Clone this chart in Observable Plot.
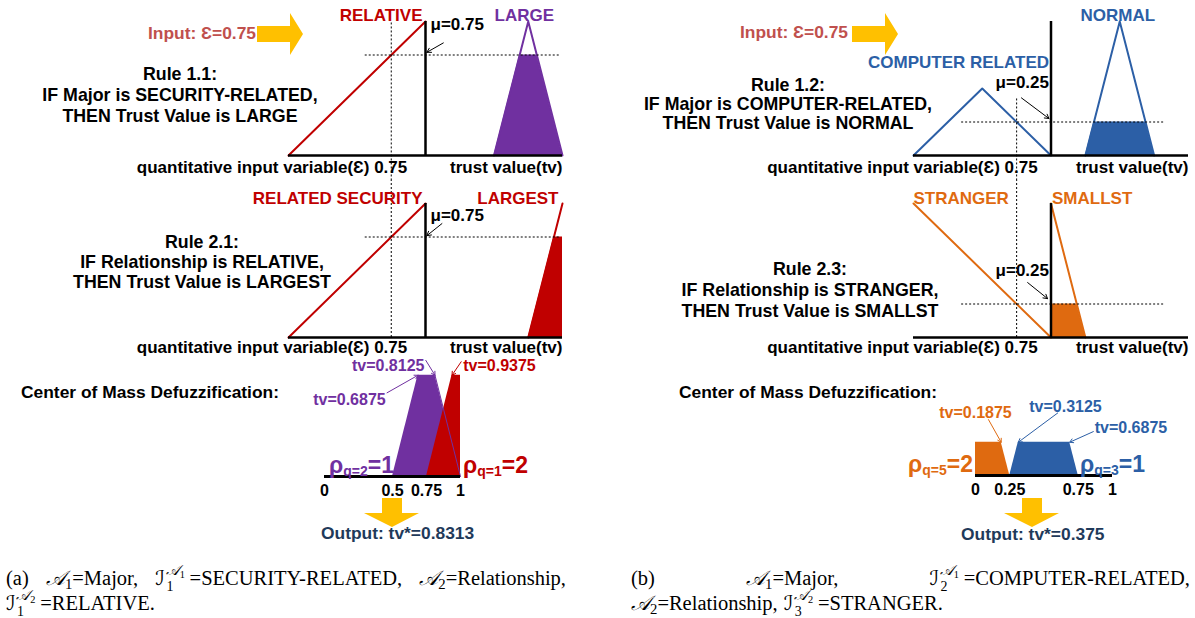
<!DOCTYPE html>
<html>
<head>
<meta charset="utf-8">
<script src="https://cdn.jsdelivr.net/npm/d3@7"></script>
<script src="https://cdn.jsdelivr.net/npm/@observablehq/plot@0.6"></script>
<style>
html,body{margin:0;padding:0;background:#fff;}
#fig{position:relative;width:1195px;height:618px;overflow:hidden;font-family:"Liberation Sans",Arial,Helvetica,sans-serif;}
#fig svg{position:absolute;overflow:visible;background:transparent;}
.t{position:absolute;font-weight:bold;font-size:17.4px;line-height:1;white-space:nowrap;color:#000;}
.rule{position:absolute;font-weight:bold;font-size:17.8px;white-space:nowrap;text-align:center;color:#000;}
.rho{position:absolute;font-weight:bold;font-size:23px;line-height:1;white-space:nowrap;}
.rho sub{font-size:14px;vertical-align:-0.15em;}
.cap{position:absolute;font-family:"Liberation Serif","Times New Roman",serif;font-size:20.5px;line-height:25px;color:#000;}
.cap .row{display:flex;justify-content:space-between;white-space:nowrap;height:25px;align-items:baseline;}
.cap .row.left{justify-content:flex-start;gap:6px;}
.cal{font-family:"DejaVu Serif","DejaVu Sans",serif;font-style:italic;}
.cap sub.s1{font-size:0.72em;vertical-align:-0.3em;line-height:0;}
.ss{position:relative;display:inline-block;width:1.2em;height:0.8em;}
.ss .up{position:absolute;left:0.05em;top:-0.32em;font-size:0.7em;line-height:0.9;white-space:nowrap;}
.ss .dn{position:absolute;left:0.1em;bottom:-0.58em;font-size:0.68em;line-height:0.9;}
</style>
</head>
<body>
<div id="fig"></div>
<script>
// ---------- colours ----------
const RED = "#C00000", PURPLE = "#7030A0", BLUE = "#2C5FA6", ORANGE = "#DF6A10";
const SALMON = "#C0504D", NAVY = "#1F3A5A", YELLOW = "#FFC000";

// ---------- data ----------
const inputValue = 0.75;

// antecedent membership functions (x = quantitative input variable ε)
const relativeMF        = [{x: 0, mu: 0}, {x: 1, mu: 1}];
const relatedSecurityMF = [{x: 0, mu: 0}, {x: 1, mu: 1}];
const computerRelatedMF = [{x: 0, mu: 0}, {x: 0.5, mu: 0.5}, {x: 1, mu: 0}];
const strangerMF        = [{x: 0, mu: 1}, {x: 1, mu: 0}];

// consequent membership functions (x = trust value tv)
const largeMF   = [{x: 0.5, mu: 0}, {x: 0.75, mu: 1}, {x: 1, mu: 0}];
const largestMF = [{x: 0.75, mu: 0}, {x: 1, mu: 1}];
const normalMF  = [{x: 0.25, mu: 0}, {x: 0.5, mu: 1}, {x: 0.75, mu: 0}];
const smallstMF = [{x: 0, mu: 1}, {x: 0.25, mu: 0}];

// firing strengths
const muRule11 = 0.75, muRule21 = 0.75, muRule12 = 0.25, muRule23 = 0.25;

// clipped consequents
const largeCut   = [{x: 0.5, mu: 0}, {x: 0.6875, mu: 0.75}, {x: 0.8125, mu: 0.75}, {x: 1, mu: 0}];
const largestCut = [{x: 0.75, mu: 0}, {x: 0.9375, mu: 0.75}, {x: 1, mu: 0.75}];
const normalCut  = [{x: 0.25, mu: 0}, {x: 0.3125, mu: 0.25}, {x: 0.6875, mu: 0.25}, {x: 0.75, mu: 0}];
const smallstCut = [{x: 0, mu: 0.25}, {x: 0.1875, mu: 0.25}, {x: 0.25, mu: 0}];

// defuzzification axes tick labels
const defuzzTicksA = [0, 0.5, 0.75, 1];
const defuzzTicksB = [0, 0.25, 0.75, 1];

// rule weights and outputs
const weightsA = [{q: 2, rho: 1}, {q: 1, rho: 2}];
const weightsB = [{q: 5, rho: 2}, {q: 3, rho: 1}];
const outputA = 0.8313, outputB = 0.375;

// rule texts
const rule11 = ["Rule 1.1:", "IF Major is SECURITY-RELATED,", "THEN Trust Value is LARGE"];
const rule21 = ["Rule 2.1:", "IF Relationship is RELATIVE,", "THEN Trust Value is LARGEST"];
const rule12 = ["Rule 1.2:", "IF Major is COMPUTER-RELATED,", "THEN Trust Value is NORMAL"];
const rule23 = ["Rule 2.3:", "IF Relationship is STRANGER,", "THEN Trust Value is SMALLST"];

// ---------- helpers ----------
const fig = document.getElementById("fig");
const FONT = "Liberation Sans, Arial, sans-serif";
const TXT = {fontSize: 17, fontWeight: "bold", fill: "#000"};
const DOT = {stroke: "#000", strokeWidth: 1, strokeDasharray: "2,2"};

function place(el, left, top) {
  el.style.left = left + "px";
  el.style.top = top + "px";
  fig.appendChild(el);
}
function label(html, x, y, cls = "t", anchor = "start", color) {
  const d = document.createElement("div");
  d.className = cls;
  d.innerHTML = html;
  const ax = anchor === "middle" ? "-50%" : anchor === "end" ? "-100%" : "0";
  d.style.transform = `translate(${ax},-50%)`;
  if (color) d.style.color = color;
  place(d, x, y);
}
function ruleText(lines, cx, cy, lh) {
  const d = document.createElement("div");
  d.className = "rule";
  d.style.lineHeight = lh + "px";
  d.innerHTML = lines.join("<br>");
  d.style.transform = "translate(-50%,-50%)";
  place(d, cx, cy);
}

// rule diagram: input variable on x in [0,1], trust value drawn on x in [1,2]
function ruleChart(c) {
  const tvx = d => 1 + d.x;
  const svg = Plot.plot({
    width: c.width, height: 180,
    marginLeft: c.mL, marginRight: c.mR, marginTop: c.mT, marginBottom: c.mB,
    x: {domain: [0, 2], axis: null},
    y: {domain: [0, 1], axis: null},
    style: {fontFamily: FONT, background: "transparent", overflow: "visible"},
    marks: [
      Plot.areaY(c.cut, {x: tvx, y: "mu", fill: c.outColor}),
      Plot.line(c.outMF, {x: tvx, y: "mu", stroke: c.outColor, strokeWidth: 2}),
      Plot.line(c.inMF, {x: "x", y: "mu", stroke: c.inColor, strokeWidth: 2}),
      Plot.ruleX([inputValue], {y1: c.dotV[0], y2: c.dotV[1], ...DOT}),
      Plot.ruleY([c.mu], {x1: c.dotH[0], x2: c.dotH[1], ...DOT}),
      Plot.ruleY([0], {x1: 0, x2: 2, stroke: "#000", strokeWidth: 2.5}),
      Plot.ruleX([1], {y1: 0, y2: 1, stroke: "#000", strokeWidth: 2.5}),
      Plot.arrow([c.arrow], {x1: "x1", y1: "y1", x2: "x2", y2: "y2", stroke: "#000", strokeWidth: 1, headLength: 7}),
      Plot.text([`μ=${c.mu}`], {x: c.muLabel.x, y: c.muLabel.y, text: d => d, textAnchor: c.muLabel.anchor, dx: c.muLabel.dx, ...TXT}),
      Plot.text([c.inLabel], {x: "x", y: "y", text: "text", textAnchor: c.inLabel.anchor, dx: c.inLabel.dx, dy: c.inLabel.dy, ...TXT, fill: c.inColor}),
      Plot.text([c.outLabel], {x: tvx, y: "y", text: "text", textAnchor: c.outLabel.anchor, dx: c.outLabel.dx, dy: c.outLabel.dy, ...TXT, fill: c.outColor}),
      Plot.text([`quantitative input variable(Ɛ) ${inputValue}`], {x: inputValue, y: 0, text: d => d, textAnchor: "end", dx: c.axDx, dy: c.axDy, ...TXT}),
      Plot.text(["trust value(tv)"], {x: 2, y: 0, text: d => d, textAnchor: "end", dy: c.axDy, ...TXT})
    ]
  });
  place(svg, c.left, c.top);
}

// defuzzification diagram: trust value on x in [0,1]
function defuzzChart(c) {
  const marks = c.areas.map(a => Plot.areaY(a.data, {x: "x", y: "mu", fill: a.color}));
  if (c.edge) marks.push(Plot.line(c.edge.data, {x: "x", y: "mu", stroke: c.edge.color, strokeWidth: 1}));
  marks.push(Plot.ruleY([0], {x1: 0, x2: 1, stroke: "#000", strokeWidth: 3}));
  marks.push(Plot.text(c.ticks, {x: d => d, y: 0, text: d => String(d), dy: 14, ...TXT, fontSize: 16}));
  c.notes.forEach(n => {
    marks.push(Plot.arrow([n], {x1: "ax", y1: "ay", x2: "tv", y2: "mu", stroke: n.color, strokeWidth: 1, headLength: 6}));
    marks.push(Plot.text([n], {x: "lx", y: "ly", text: "text", textAnchor: n.anchor, ...TXT, fontSize: 16, fill: n.color}));
  });
  const svg = Plot.plot({
    width: c.width, height: 200,
    marginLeft: c.mL, marginRight: c.mR, marginTop: c.mT, marginBottom: c.mB,
    x: {domain: [0, 1], axis: null},
    y: {domain: [0, 1], axis: null},
    style: {fontFamily: FONT, background: "transparent", overflow: "visible"},
    marks
  });
  place(svg, c.left, c.top);
}

// ---------- panel (a) ----------
ruleChart({
  left: 0, top: 0, width: 600, mL: 288, mR: 38, mT: 21, mB: 25,
  inMF: relativeMF, inColor: RED, inLabel: {text: "RELATIVE", x: 1, y: 1, anchor: "end", dx: -3, dy: -6},
  outMF: largeMF, outColor: PURPLE, cut: largeCut, outLabel: {text: "LARGE", x: 0.75, y: 1, anchor: "middle", dx: -4, dy: -6},
  mu: muRule11, muLabel: {x: 1, y: 0.98, anchor: "start", dx: 5},
  dotV: [-0.19, 1.0], dotH: [0.56, 1.985],
  arrow: {x1: 1.13, y1: 0.84, x2: 1.01, y2: 0.77}, axDx: 16, axDy: 12
});
ruleChart({
  left: 0, top: 180, width: 600, mL: 288, mR: 38, mT: 23, mB: 23,
  inMF: relatedSecurityMF, inColor: RED, inLabel: {text: "RELATED SECURITY", x: 1, y: 1, anchor: "end", dx: -3, dy: -5},
  outMF: largestMF, outColor: RED, cut: largestCut, outLabel: {text: "LARGEST", x: 1, y: 1, anchor: "end", dx: -4, dy: -5},
  mu: muRule21, muLabel: {x: 1, y: 0.91, anchor: "start", dx: 5},
  dotV: [0, 1.17], dotH: [0.56, 1.985],
  arrow: {x1: 1.12, y1: 0.85, x2: 1.01, y2: 0.76}, axDx: 16, axDy: 10
});
defuzzChart({
  left: 0, top: 330, width: 600, mL: 324, mR: 140, mT: 11, mB: 54,
  areas: [{data: largeCut, color: PURPLE}, {data: largestCut, color: RED}],
  edge: {data: largeCut.slice(2), color: PURPLE},
  ticks: defuzzTicksA,
  notes: [
    {text: "tv=0.6875", color: PURPLE, tv: 0.6875, mu: 0.75, lx: 0.45, ly: 0.57, anchor: "end", ax: 0.46, ay: 0.62},
    {text: "tv=0.8125", color: PURPLE, tv: 0.8125, mu: 0.75, lx: 0.735, ly: 0.82, anchor: "end", ax: 0.745, ay: 0.86},
    {text: "tv=0.9375", color: RED, tv: 0.9375, mu: 0.75, lx: 1.02, ly: 0.82, anchor: "start", ax: 1.005, ay: 0.85}
  ]
});

// ---------- panel (b) ----------
ruleChart({
  left: 600, top: 0, width: 595, mL: 313, mR: 7, mT: 21, mB: 25,
  inMF: computerRelatedMF, inColor: BLUE, inLabel: {text: "COMPUTER RELATED", x: 1, y: 0.69, anchor: "end", dx: -2, dy: 0},
  outMF: normalMF, outColor: BLUE, cut: normalCut, outLabel: {text: "NORMAL", x: 0.5, y: 1, anchor: "middle", dx: -2, dy: -6},
  mu: muRule12, muLabel: {x: 1, y: 0.545, anchor: "end", dx: -2},
  dotV: [-0.19, 0.43], dotH: [0.35, 1.825],
  arrow: {x1: 0.785, y1: 0.43, x2: 0.985, y2: 0.276}, axDx: 21, axDy: 12
});
ruleChart({
  left: 600, top: 180, width: 595, mL: 313, mR: 7, mT: 23, mB: 23,
  inMF: strangerMF, inColor: ORANGE, inLabel: {text: "STRANGER", x: 0, y: 1, anchor: "start", dx: 0, dy: -5},
  outMF: smallstMF, outColor: ORANGE, cut: smallstCut, outLabel: {text: "SMALLST", x: 0, y: 1, anchor: "start", dx: 1, dy: -5},
  mu: muRule23, muLabel: {x: 1, y: 0.5, anchor: "end", dx: -2},
  dotV: [0, 1.17], dotH: [0.35, 1.825],
  arrow: {x1: 0.83, y1: 0.41, x2: 0.975, y2: 0.29}, axDx: 21, axDy: 10
});
defuzzChart({
  left: 600, top: 330, width: 595, mL: 375, mR: 83, mT: 12, mB: 55,
  areas: [{data: smallstCut, color: ORANGE}, {data: normalCut, color: BLUE}],
  ticks: defuzzTicksB,
  notes: [
    {text: "tv=0.1875", color: ORANGE, tv: 0.1875, mu: 0.25, lx: 0.0, ly: 0.47, anchor: "middle", ax: 0.095, ay: 0.42},
    {text: "tv=0.3125", color: BLUE, tv: 0.3125, mu: 0.25, lx: 0.657, ly: 0.515, anchor: "middle", ax: 0.6, ay: 0.47},
    {text: "tv=0.6875", color: BLUE, tv: 0.6875, mu: 0.25, lx: 0.87, ly: 0.356, anchor: "start", ax: 0.86, ay: 0.33}
  ]
});

// ---------- texts ----------
label(`Input: Ɛ=${inputValue}`, 148, 34, "t", "start", SALMON);
label(`Input: Ɛ=${inputValue}`, 740, 33, "t", "start", SALMON);
ruleText(rule11, 180, 95, 21);
ruleText(rule21, 202, 262, 20);
ruleText(rule12, 788, 104, 19);
ruleText(rule23, 810, 290, 21);
label("Center of Mass Defuzzification:", 21, 393);
label("Center of Mass Defuzzification:", 679, 393);
label(`Output: tv*=${outputA}`, 321, 534, "t", "start", NAVY);
label(`Output: tv*=${outputB}`, 961, 535, "t", "start", NAVY);
const rho = w => `ρ<sub>q=${w.q}</sub>=${w.rho}`;
label(rho(weightsA[0]), 329, 466, "rho", "start", PURPLE);
label(rho(weightsA[1]), 463, 466, "rho", "start", RED);
label(rho(weightsB[0]), 908, 465, "rho", "start", ORANGE);
label(rho(weightsB[1]), 1080, 465, "rho", "start", BLUE);

// ---------- yellow block arrows ----------
const ns = "http://www.w3.org/2000/svg";
const deco = document.createElementNS(ns, "svg");
deco.setAttribute("width", 1195); deco.setAttribute("height", 618);
deco.style.left = "0px"; deco.style.top = "0px";
const arrowsRight = [257, 852], arrowsDown = [382, 1022];
arrowsRight.forEach(x0 => {
  const p = document.createElementNS(ns, "polygon");
  p.setAttribute("points", [[x0,26],[x0+33,26],[x0+33,13],[x0+46,34],[x0+33,55],[x0+33,42],[x0,42]].map(d => d.join(",")).join(" "));
  p.setAttribute("fill", YELLOW);
  deco.appendChild(p);
});
arrowsDown.forEach(x0 => {
  const p = document.createElementNS(ns, "polygon");
  p.setAttribute("points", [[x0,498],[x0+20,498],[x0+20,513],[x0+37,513],[x0+10,527],[x0-18,513],[x0,513]].map(d => d.join(",")).join(" "));
  p.setAttribute("fill", YELLOW);
  deco.appendChild(p);
});
fig.appendChild(deco);

// ---------- captions ----------
const A = n => `<span class="cal">𝒜</span><sub class="s1">${n}</sub>`;
const I = (sub, sup) => `<span class="cal">ℐ</span><span class="ss"><span class="up">${A(sup)}</span><span class="dn">${sub}</span></span>`;
function caption(rows, left, top, width) {
  const d = document.createElement("div");
  d.className = "cap";
  d.style.width = width + "px";
  d.innerHTML = rows.map((r, i) => `<div class="row${i === rows.length - 1 ? " left" : ""}">${r.map(s => `<span>${s}</span>`).join("")}</div>`).join("");
  place(d, left, top);
}
caption([
  ["(a)", `${A(1)}=Major,`, `${I(1, 1)}=SECURITY-RELATED,`, `${A(2)}=Relationship,`],
  [`${I(1, 2)}=RELATIVE.`]
], 6, 566, 560);
caption([
  ["(b)", `${A(1)}=Major,`, `${I(2, 1)}=COMPUTER-RELATED,`],
  [`${A(2)}=Relationship,`, `${I(3, 2)}=STRANGER.`]
], 631, 566, 559);
</script>
</body>
</html>
